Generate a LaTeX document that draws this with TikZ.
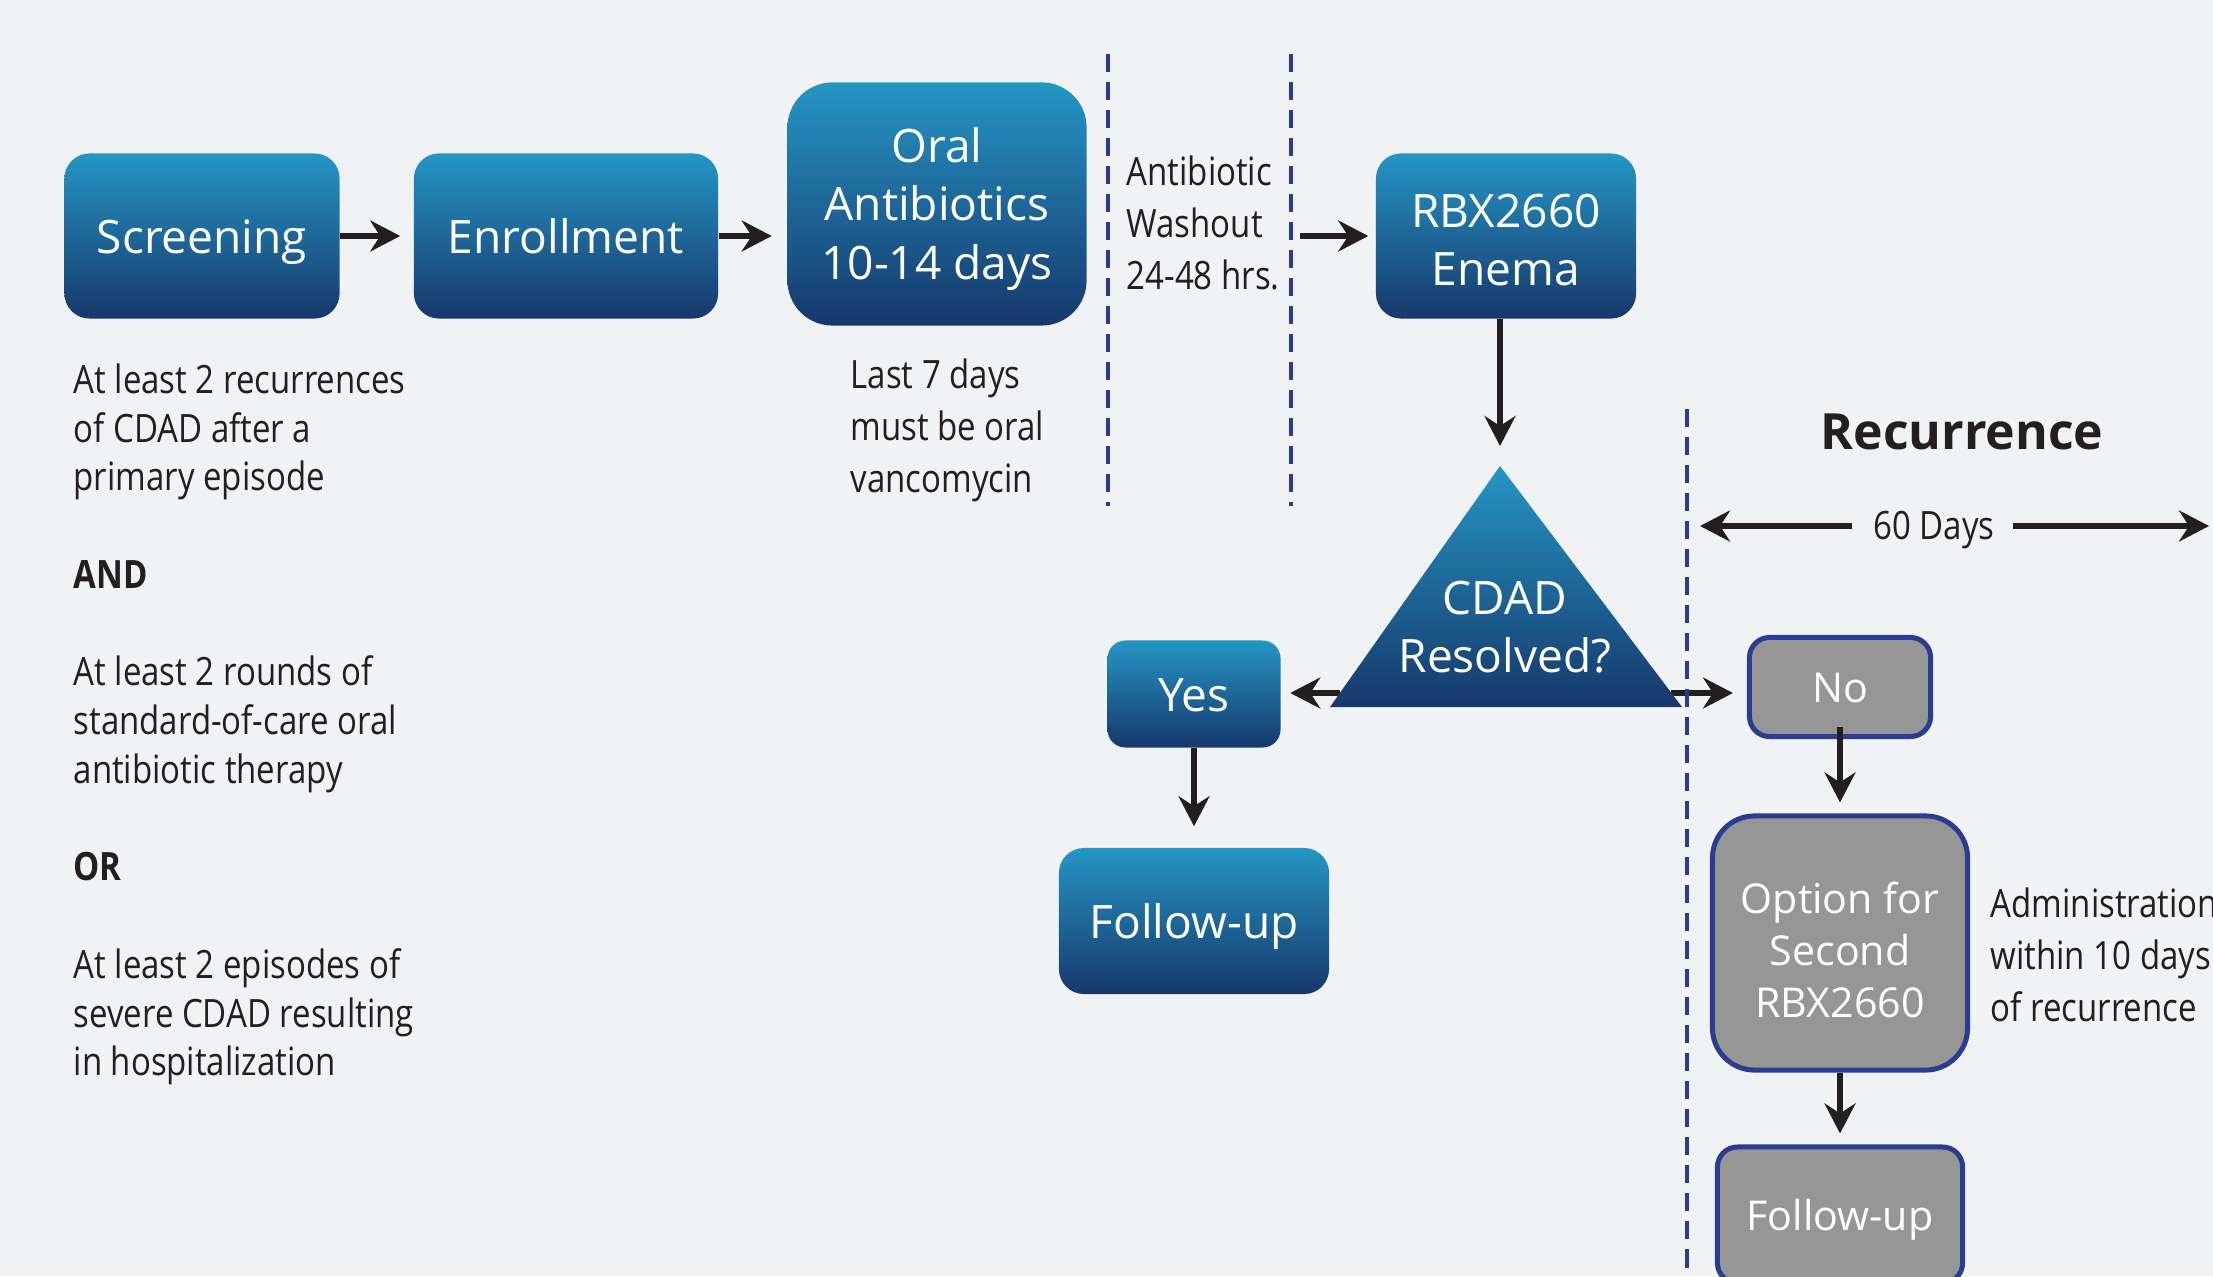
\documentclass[tikz,border=0pt]{standalone}
\usepackage{fontspec}
\setmainfont{Open Sans}
\newfontfamily\condfont[FakeStretch=0.845]{Open Sans}
\usepackage{xcolor}
\usepackage{tikz}
\usetikzlibrary{arrows.meta}
\definecolor{pagegray}{RGB}{241,242,244}
\definecolor{blocktop}{RGB}{37,150,197}
\definecolor{blockbottom}{RGB}{23,56,107}
\definecolor{recurgray}{RGB}{150,150,150}
\definecolor{recurblue}{RGB}{42,62,145}
\definecolor{dividerblue}{RGB}{40,60,150}
\definecolor{inkblack}{RGB}{35,31,32}
\newcommand{\blockfont}{\fontsize{13.1}{16.6}\selectfont}
\newcommand{\grayfont}{\fontsize{11.7}{14.7}\selectfont}
\newcommand{\notefont}{\condfont\fontsize{11.1}{14.8}\selectfont}
\newcommand{\toppad}[1]{\rule{0pt}{#1}}
\tikzset{
    block/.style={rectangle, rounded corners=0.25cm, top color=blocktop, bottom color=blockbottom,
                  text=white, align=center, font=\blockfont, inner sep=0pt},
    recurbox/.style={rectangle, rounded corners=0.2cm, fill=recurgray, draw=recurblue,
                     line width=0.05cm, text=white, align=center, font=\grayfont, inner sep=0pt},
    oneline/.style={text height=#1, text depth=0pt},
    note/.style={anchor=north west, inner sep=0pt, align=left, text=inkblack, font=\notefont},
    divider/.style={dividerblue, line width=0.045cm, dash pattern=on 0.18cm off 0.1cm},
    arrow/.style={inkblack, line width=0.055cm, -{Stealth[length=0.3cm, width=0.31cm, inset=0.1cm]}}
}

\begin{document}
\begin{tikzpicture}[x=0.01cm, y=-0.01cm]
    % Page
    \fill[pagegray] (0,0) rectangle (2213,1276);
    \useasboundingbox (0,0) rectangle (2213,1276);

    % Main flow
    \node[block, oneline=0.35cm, minimum width=2.75cm, minimum height=1.65cm] (screening) at (202,236) {Screening};
    \node[block, oneline=0.35cm, minimum width=3.04cm, minimum height=1.65cm] (enrollment) at (566,236) {Enrollment};
    \node[block, rounded corners=0.45cm, minimum width=2.99cm, minimum height=2.43cm] (oral) at (937,204) {\toppad{0.45cm}Oral\\Antibiotics\\10-14 days};
    \node[block, minimum width=2.6cm, minimum height=1.65cm] (rbx) at (1506,236) {\toppad{0.41cm}RBX2660\\Enema};
    \coordinate (washend) at (1300,236);

    % Decision
    \coordinate (apex) at (1500,466);
    \coordinate (baseR) at (1682,707);
    \coordinate (baseL) at (1330,707);
    \coordinate (triL) at (1340,693);
    \coordinate (triR) at (1671,693);
    \node[block, oneline=0.35cm, rounded corners=0.18cm, minimum width=1.73cm, minimum height=1.07cm] (yes) at (1194,694) {Yes};
    \node[block, oneline=0.35cm, minimum width=2.7cm, minimum height=1.46cm] (followA) at (1194,921) {Follow-up};

    % Recurrence branch
    \node[recurbox, oneline=0.31cm, minimum width=1.81cm, minimum height=0.99cm] (no) at (1840,687) {No};
    \node[recurbox, rounded corners=0.42cm, minimum width=2.55cm, minimum height=2.54cm] (option) at (1840,943) {\toppad{0.45cm}Option for\\Second\\RBX2660};
    \node[recurbox, oneline=0.31cm, minimum width=2.45cm, minimum height=1.36cm] (followB) at (1840,1215) {Follow-up};

    % Arrows
    \draw[arrow, shorten >=0.13cm] (screening) -- (enrollment);
    \draw[arrow, shorten >=0.15cm] (enrollment) -- (oral.west |- enrollment);
    \draw[arrow, shorten >=0.07cm] (washend) -- (rbx.west);
    \draw[arrow, shorten >=0.2cm] (rbx.south -| apex) -- (apex);
    \draw[arrow, shorten >=0.09cm] (triL) -- (triL -| yes.east);
    \draw[arrow, shorten >=0.14cm] (triR) -- (triR -| no.west);
    \draw[arrow, shorten >=0.21cm] (yes.south) -- (followA.north);
    \draw[arrow, shorten <=-0.12cm, shorten >=0.11cm] (no.south) -- (option.north);
    \draw[arrow, shorten >=0.11cm] (option.south) -- (followB.north);

    % Triangle over the branch arrows
    \shade[top color=blocktop, bottom color=blockbottom] (apex) -- (baseR) -- (baseL) -- cycle;
    \node[text=white, align=center, font=\blockfont] (resolved) at (1505,627) {CDAD\\Resolved?};

    % Dividers
    \draw[divider] (1108,54) -- (1108,506);
    \draw[divider] (1291,54) -- (1291,506);
    \draw[divider] (1687,409) -- (1687,1276);

    % Recurrence window
    \node[text=inkblack, font=\fontsize{14.2}{17}\selectfont\bfseries] (recurrence) at (1962,432) {Recurrence};
    \node[note, anchor=center] (sixty) at (1934,530) {60 Days};
    \coordinate (spanL) at (1700,526);
    \coordinate (spanR) at (2209,526);
    \draw[arrow, shorten <=0.21cm] (sixty.west |- spanL) -- (spanL);
    \draw[arrow, shorten <=0.18cm] (sixty.east |- spanR) -- (spanR);

    % Notes
    \node[note, font=\condfont\fontsize{11.1}{13.86}\selectfont] (criteria) at (73,363)
        {At least 2 recurrences\\of CDAD after a\\primary episode\\[13.86pt]
         \textbf{AND}\\[13.86pt]
         At least 2 rounds of\\standard-of-care oral\\antibiotic therapy\\[13.86pt]
         \textbf{OR}\\[13.86pt]
         At least 2 episodes of\\severe CDAD resulting\\in hospitalization};
    \node[note] (lastdays) at (850,358) {Last 7 days\\must be oral\\vancomycin};
    \node[note] (washout) at (1126,155) {Antibiotic\\Washout\\24-48 hrs.};
    \node[note] (admin) at (1990,887) {Administration\\within 10 days\\of recurrence};
\end{tikzpicture}
\end{document}
